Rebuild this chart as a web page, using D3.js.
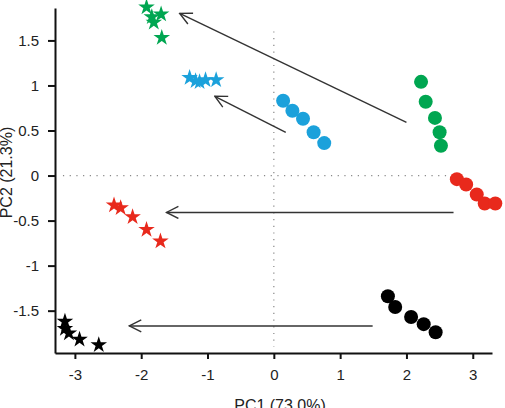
<!DOCTYPE html>
<html>
<head>
<meta charset="utf-8">
<script src="https://cdn.jsdelivr.net/npm/d3@7"></script>
<style>
  body { margin: 0; background: #fff; }
  text { font-family: "Liberation Sans", Arial, sans-serif; }
</style>
</head>
<body>
<div id="chart"></div>
<script>
const width = 505;
const height = 408;

// PCA scores, one array per group: [PC1, PC2]
const greenCircles = [[2.22, 1.04], [2.29, 0.82], [2.43, 0.64], [2.50, 0.48], [2.52, 0.33]];
const blueCircles = [[0.14, 0.83], [0.28, 0.72], [0.44, 0.63], [0.60, 0.48], [0.76, 0.36]];
const redCircles = [[2.76, -0.04], [2.90, -0.10], [3.06, -0.21], [3.18, -0.31], [3.34, -0.31]];
const blackCircles = [[1.72, -1.34], [1.83, -1.46], [2.07, -1.57], [2.26, -1.65], [2.44, -1.74]];

const greenStars = [[-1.92, 1.87], [-1.84, 1.76], [-1.70, 1.79], [-1.81, 1.70], [-1.69, 1.53]];
const blueStars = [[-1.27, 1.085], [-1.18, 1.05], [-1.12, 1.04], [-1.03, 1.06], [-0.87, 1.06]];
const redStars = [[-2.41, -0.33], [-2.31, -0.36], [-2.13, -0.46], [-1.92, -0.60], [-1.71, -0.73]];
const blackStars = [[-3.15, -1.62], [-3.15, -1.70], [-3.09, -1.75], [-2.93, -1.82], [-2.64, -1.88]];

// arrows: [start, end]
const arrows = [
  [[2.00, 0.59], [-1.42, 1.80]],
  [[0.18, 0.48], [-0.89, 0.88]],
  [[2.71, -0.41], [-1.62, -0.41]],
  [[1.49, -1.67], [-2.18, -1.67]]
];

const xTicks = [-3, -2, -1, 0, 1, 2, 3];
const yTicks = [-1.5, -1, -0.5, 0, 0.5, 1, 1.5];

const colors = { green: "#00a651", blue: "#1ba1db", red: "#e8291c", black: "#000000" };

const margin = { left: 55, right: 13, top: 8, bottom: 55 };

const x = d3.scaleLinear()
  .domain([-3.30, 3.29])
  .range([margin.left, width - margin.right]);

const y = d3.scaleLinear()
  .domain([-1.97, 1.86])
  .range([height - margin.bottom, margin.top]);

const svg = d3.select("#chart")
  .append("svg")
  .attr("width", width)
  .attr("height", height);

const defs = svg.append("defs");
defs.append("marker")
  .attr("id", "head")
  .attr("viewBox", "0 0 14 14")
  .attr("refX", 13)
  .attr("refY", 7)
  .attr("markerWidth", 14)
  .attr("markerHeight", 14)
  .attr("markerUnits", "userSpaceOnUse")
  .attr("orient", "auto")
  .append("path")
  .attr("d", "M1,1 L13,7 L1,13")
  .attr("fill", "none")
  .attr("stroke", "#333")
  .attr("stroke-width", 1.4);

// dotted zero lines
svg.append("line")
  .attr("x1", x(0)).attr("x2", x(0))
  .attr("y1", y(1.6)).attr("y2", y(-1.9))
  .attr("stroke", "#888")
  .attr("stroke-width", 1.2)
  .attr("stroke-dasharray", "1.2,5.5");

svg.append("line")
  .attr("x1", x(-3.18)).attr("x2", x(2.62))
  .attr("y1", y(0)).attr("y2", y(0))
  .attr("stroke", "#888")
  .attr("stroke-width", 1.2)
  .attr("stroke-dasharray", "1.2,5.5");

// axes
const fmt = d => String(d);

const xAxis = svg.append("g")
  .attr("transform", `translate(0,${height - margin.bottom})`)
  .call(d3.axisBottom(x).tickValues(xTicks).tickFormat(fmt).tickSizeInner(6).tickSizeOuter(0).tickPadding(10));

const yAxis = svg.append("g")
  .attr("transform", `translate(${margin.left},0)`)
  .call(d3.axisLeft(y).tickValues(yTicks).tickFormat(fmt).tickSizeInner(7).tickSizeOuter(0).tickPadding(9));

[xAxis, yAxis].forEach(g => {
  g.select(".domain").attr("stroke", "#111").attr("stroke-width", 2);
  g.selectAll(".tick line").attr("stroke", "#111").attr("stroke-width", 2);
  g.selectAll(".tick text")
    .attr("fill", "#222")
    .style("font-family", "'Liberation Sans', Arial, sans-serif")
    .style("font-size", "15px");
});

// axis titles
svg.append("text")
  .attr("x", 280)
  .attr("y", 411)
  .attr("text-anchor", "middle")
  .attr("fill", "#222")
  .style("font-size", "16px")
  .text("PC1 (73.0%)");

svg.append("text")
  .attr("transform", `translate(12,${y(0) - 3}) rotate(-90)`)
  .attr("text-anchor", "middle")
  .attr("fill", "#222")
  .style("font-size", "16px")
  .text("PC2 (21.3%)");

// arrows
svg.selectAll(".arrow")
  .data(arrows)
  .join("line")
  .attr("class", "arrow")
  .attr("x1", d => x(d[0][0]))
  .attr("y1", d => y(d[0][1]))
  .attr("x2", d => x(d[1][0]))
  .attr("y2", d => y(d[1][1]))
  .attr("stroke", "#333")
  .attr("stroke-width", 1.4)
  .attr("marker-end", "url(#head)");

// points
const circleGroups = [
  [greenCircles, colors.green],
  [blueCircles, colors.blue],
  [redCircles, colors.red],
  [blackCircles, colors.black]
];
const starGroups = [
  [greenStars, colors.green],
  [blueStars, colors.blue],
  [redStars, colors.red],
  [blackStars, colors.black]
];

circleGroups.forEach(([pts, col]) => {
  svg.append("g")
    .selectAll("circle")
    .data(pts)
    .join("circle")
    .attr("cx", d => x(d[0]))
    .attr("cy", d => y(d[1]))
    .attr("r", 7)
    .attr("fill", col);
});

const star = d3.symbol().type(d3.symbolStar).size(85);

starGroups.forEach(([pts, col]) => {
  svg.append("g")
    .selectAll("path")
    .data(pts)
    .join("path")
    .attr("transform", d => `translate(${x(d[0])},${y(d[1])})`)
    .attr("d", star)
    .attr("fill", col);
});
</script>
</body>
</html>
